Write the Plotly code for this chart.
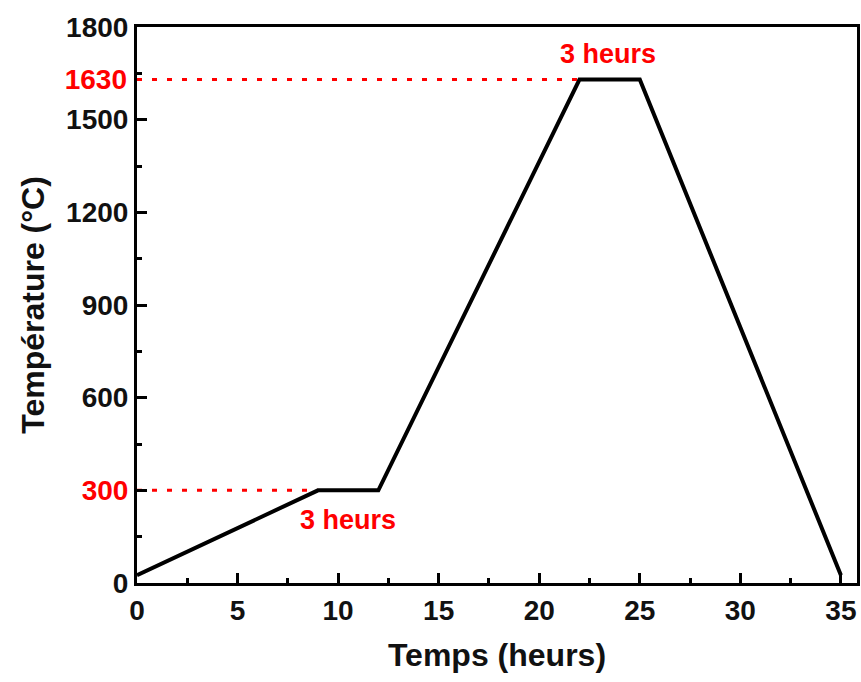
import plotly.graph_objects as go

time_h = [0, 9, 12, 22, 25, 35]
temp_c = [25, 300, 300, 1630, 1630, 25]
ref_levels = [300, 1630]
ref_times = [9, 22]
y_ticks = [0, 300, 600, 900, 1200, 1500, 1800]
x_ticks = [0, 5, 10, 15, 20, 25, 30, 35]
hold_labels = ["3 heurs", "3 heurs"]
hold_label_x = [10.5, 23.4]
hold_label_y = [204, 1712]

FONT = "Liberation Sans, Arial, sans-serif"
RED = "#ff0000"
INK = "#111111"
Y_RANGE = [0, 1800]

fig = go.Figure()
fig.add_trace(go.Scatter(x=[0, ref_times[0]], y=[ref_levels[0]] * 2, mode="lines",
                         line=dict(color=RED, width=3, dash="5px,10px"),
                         showlegend=False, hoverinfo="skip"))
fig.add_trace(go.Scatter(x=[0, ref_times[1]], y=[ref_levels[1]] * 2, mode="lines",
                         yaxis="y2",
                         line=dict(color=RED, width=3, dash="5px,10px"),
                         showlegend=False, hoverinfo="skip"))
fig.add_trace(go.Scatter(x=time_h, y=temp_c, mode="lines",
                         line=dict(color="black", width=4),
                         showlegend=False))

for txt, x, y in zip(hold_labels, hold_label_x, hold_label_y):
    fig.add_annotation(x=x, y=y, text=txt, showarrow=False,
                       font=dict(family=FONT, size=27, color=RED, weight="bold"))

ytext = []
for v in y_ticks:
    if v == 300:
        ytext.append("<span style='color:%s'>%d</span>" % (RED, v))
    else:
        ytext.append(str(v))

fig.update_layout(
    width=861, height=682,
    margin=dict(l=137, r=1, t=27, b=99),
    plot_bgcolor="white", paper_bgcolor="white",
    font=dict(family=FONT, size=28, color=INK),
    xaxis=dict(range=[0, 35.8], tickvals=x_ticks, ticks="inside", ticklen=10,
               tickwidth=3, tickcolor="black",
               showline=True, linewidth=3, linecolor="black", mirror=True,
               showgrid=False, zeroline=False,
               tickfont=dict(family=FONT, size=28, color=INK, weight="bold"),
               minor=dict(ticks="inside", dtick=2.5, tick0=0, ticklen=5, tickwidth=3,
                          tickcolor="black", showgrid=False),
               title=dict(text="Temps (heurs)", standoff=20,
                          font=dict(family=FONT, size=32, color=INK, weight="bold"))),
    yaxis=dict(range=Y_RANGE, tickvals=y_ticks, ticktext=ytext, ticks="inside",
               ticklen=10, tickwidth=3, tickcolor="black",
               showline=True, linewidth=3, linecolor="black", mirror=True,
               showgrid=False, zeroline=False,
               tickfont=dict(family=FONT, size=28, color=INK, weight="bold"),
               minor=dict(ticks="inside", dtick=150, tick0=0, ticklen=5, tickwidth=3,
                          tickcolor="black", showgrid=False),
               title=dict(text="Température (°C)", standoff=12,
                          font=dict(family=FONT, size=32, color=INK, weight="bold"))),
    yaxis2=dict(range=Y_RANGE, overlaying="y", side="left", tickvals=[ref_levels[1]],
                ticks="", showline=False, showgrid=False, zeroline=False,
                ticklabelstandoff=9,
                tickfont=dict(family=FONT, size=28, color=RED, weight="bold")),
)

fig.write_html("out.html")
